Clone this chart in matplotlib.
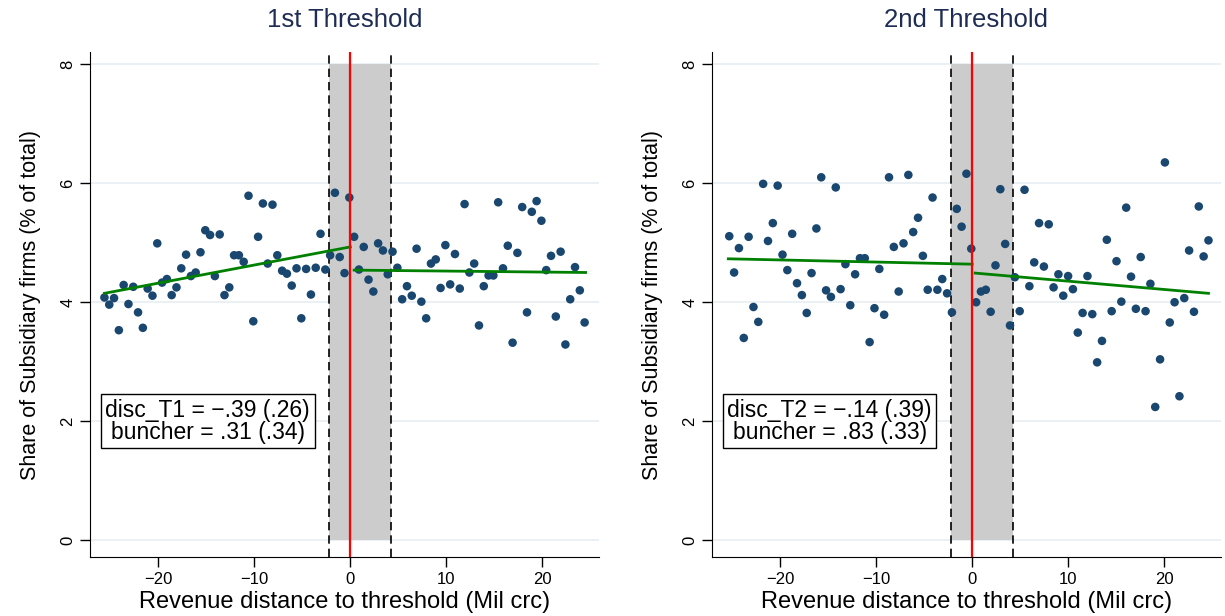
import matplotlib
matplotlib.use("Agg")
import matplotlib.pyplot as plt
import numpy as np

plt.rcParams['font.family'] = ['Liberation Sans', 'DejaVu Sans']

# binned shares, first threshold (bins of 0.5 from -25.6 to 24.4)
x1 = np.linspace(-25.6, 24.4, 101)
y1 = [4.08, 3.96, 4.07, 3.53, 4.29, 3.97, 4.26, 3.83, 3.57, 4.23,
      4.11, 4.99, 4.33, 4.39, 4.12, 4.25, 4.57, 4.80, 4.44, 4.50,
      4.84, 5.21, 5.13, 4.44, 5.14, 4.12, 4.25, 4.79, 4.79, 4.68,
      5.79, 3.68, 5.10, 5.66, 4.65, 5.64, 4.79, 4.53, 4.48, 4.28,
      4.57, 3.73, 4.56, 4.13, 4.58, 5.15, 4.55, 4.79, 5.84, 4.76,
      4.49, 5.76, 5.10, 4.55, 4.93, 4.38, 4.18, 4.99, 4.87, 4.47,
      4.85, 4.58, 4.05, 4.27, 4.11, 4.90, 4.01, 3.73, 4.65, 4.72,
      4.24, 4.96, 4.30, 4.81, 4.23, 5.65, 4.50, 4.65, 3.61, 4.27,
      4.45, 4.45, 5.68, 4.57, 4.95, 3.32, 4.83, 5.60, 3.83, 5.52,
      5.70, 5.37, 4.54, 4.78, 3.76, 4.85, 3.29, 4.05, 4.59, 4.20,
      3.66]

# second threshold
x2 = np.linspace(-25.3, 24.6, 100)
y2 = [5.11, 4.50, 4.91, 3.40, 5.10, 3.92, 3.67, 5.99, 5.03, 5.33,
      5.96, 4.80, 4.54, 5.15, 4.32, 4.12, 3.82, 4.49, 5.24, 6.10,
      4.20, 4.09, 5.93, 4.22, 4.64, 3.95, 4.47, 4.74, 4.74, 3.33,
      3.90, 4.56, 3.79, 6.10, 4.93, 4.18, 4.99, 6.14, 5.18, 5.42,
      4.78, 4.21, 5.76, 4.21, 4.39, 4.15, 3.83, 5.57, 5.27, 6.16,
      4.90, 4.00, 4.18, 4.21, 3.84, 4.62, 5.90, 4.98, 3.61, 4.42,
      3.85, 5.89, 4.27, 4.67, 5.33, 4.60, 5.31, 4.25, 4.47, 4.11,
      4.44, 4.22, 3.49, 3.82, 4.44, 3.80, 2.99, 3.35, 5.05, 3.85,
      4.69, 4.01, 5.59, 4.43, 3.89, 4.76, 3.85, 4.31, 2.24, 3.04,
      6.35, 3.66, 4.00, 2.42, 4.07, 4.87, 3.84, 5.61, 4.77, 5.04]

# fitted lines: (x_start, x_end), (y_start, y_end)
fit1_left = ([-25.6, 0.0], [4.15, 4.93])
fit1_right = ([0.4, 24.5], [4.54, 4.50])
fit2_left = ([-25.4, 0.0], [4.73, 4.64])
fit2_right = ([0.3, 24.6], [4.49, 4.15])

donut = (-2.2, 4.2)
titles = ['1st Threshold', '2nd Threshold']
notes = ['disc_T1 = \u2212.39 (.26)\nbuncher = .31 (.34)',
         'disc_T2 = \u2212.14 (.39)\nbuncher = .83 (.33)']

navy = '#1a476f'
fig = plt.figure(figsize=(12.25, 6.16), dpi=100)
lefts = [0.0735, 0.5812]
panels = [(x1, y1, fit1_left, fit1_right), (x2, y2, fit2_left, fit2_right)]

for i, (xs, ys, fl, fr) in enumerate(panels):
    ax = fig.add_axes([lefts[i], 0.095, 0.4155, 0.82])
    ax.set_xlim(-27.1, 25.9)
    ax.set_ylim(-0.29, 8.2)
    for g in [0, 2, 4, 6, 8]:
        ax.axhline(g, color='#e6eef2', lw=1.2, zorder=0)
    ax.fill_between(donut, 0, 8, color='#cccccc', lw=0, zorder=1)
    for d in donut:
        ax.axvline(d, color='black', lw=1.2, ls=(0, (5, 3)), zorder=2)
    ax.scatter(xs, ys, s=38, color=navy, edgecolors='none', zorder=3)
    ax.plot(fl[0], fl[1], color='#008000', lw=2, zorder=4)
    ax.plot(fr[0], fr[1], color='#008000', lw=2, zorder=4)
    ax.axvline(0, color='red', lw=1.6, zorder=5)
    ax.text(-14.85, 2.0, notes[i], ha='center', va='center', fontsize=16.5,
            linespacing=0.95, zorder=6,
            bbox=dict(boxstyle='square,pad=0.2', fc='white', ec='black', lw=1))
    ax.set_yticks([0, 2, 4, 6, 8])
    ax.set_xticks([-20, -10, 0, 10, 20])
    ax.set_xticklabels(['\u221220', '\u221210', '0', '10', '20'])
    ax.tick_params(axis='both', labelsize=12, length=7, width=1)
    for lab in ax.get_yticklabels():
        lab.set_rotation(90)
        lab.set_va('center')
    ax.spines['top'].set_visible(False)
    ax.spines['right'].set_visible(False)
    ax.set_title(titles[i], fontsize=18.5, color='#1f2d55', pad=18)
    ax.set_xlabel('Revenue distance to threshold (Mil crc)', fontsize=17, labelpad=3)
    ax.set_ylabel('Share of Subsidiary firms (% of total)', fontsize=15.5, labelpad=14)

fig.savefig('out.png', dpi=100)
